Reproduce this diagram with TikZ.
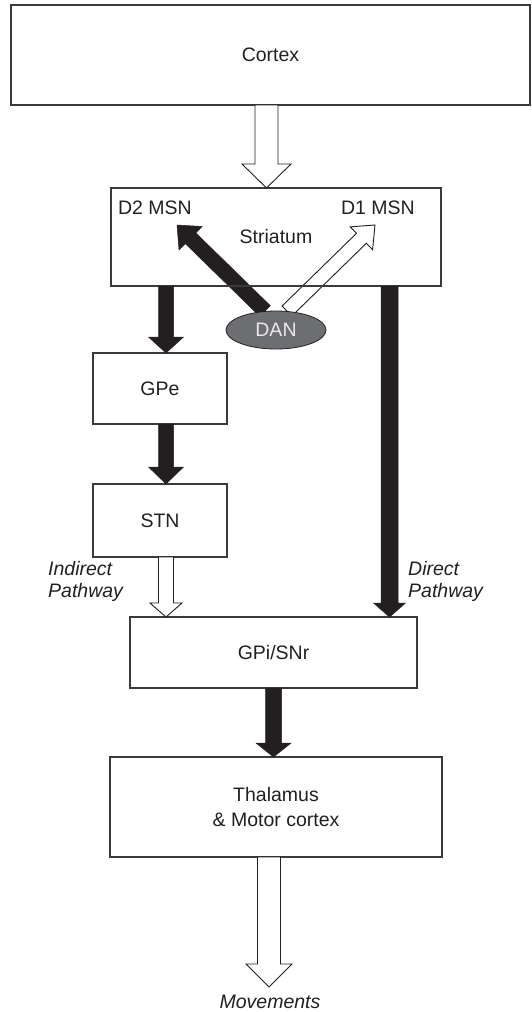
\documentclass[tikz,border=0pt]{standalone}
\usepackage{fontspec}
\setmainfont{Liberation Sans}
\usetikzlibrary{calc,shapes.geometric}
\pgfdeclarelayer{back}
\pgfsetlayers{back,main}
\definecolor{ink}{HTML}{231F20}
\definecolor{rim}{HTML}{3A3A3A}
\definecolor{dangray}{HTML}{6D6E71}
\definecolor{danfg}{HTML}{E8E8E8}
\newcommand{\labelsize}{\fontsize{19.5}{22}\selectfont}

\begin{document}
\begin{tikzpicture}[x=1pt,y=-1pt,
  every node/.style={font=\labelsize, text=ink},
  box/.style={draw=rim, line width=1.1pt, inner sep=0pt, outer sep=0pt, align=center},
  blk/.style={fill=ink, draw=ink, line width=0.5pt},
  wht/.style={fill=white, draw=ink, line width=0.9pt, line join=miter},
  fat/.style n args={3}{to path={
    ($(\tikztotarget)!#3!(\tikztostart)$) coordinate (neck)
    ($(\tikztostart)!#1!90:(\tikztotarget)$)
    -- ($(neck)!#1!90:(\tikztotarget)$)
    -- ($(neck)!#2!90:(\tikztotarget)$)
    -- (\tikztotarget)
    -- ($(neck)!#2!-90:(\tikztotarget)$)
    -- ($(neck)!#1!-90:(\tikztotarget)$)
    -- ($(\tikztostart)!#1!-90:(\tikztotarget)$) -- cycle}}]

\useasboundingbox (0,0) rectangle (532,1012);

% boxes
\node[box, minimum width=519pt, minimum height=100pt] (cortex) at (270.5,55) {Cortex};
\node[box, minimum width=330pt, minimum height=98pt] (str) at (276,237) {Striatum};
\node[box, minimum width=134pt, minimum height=71pt] (gpe) at (160,388.5) {GPe};
\node[box, minimum width=134pt, minimum height=73pt] (stn) at (160,520.5) {STN};
\node[box, minimum width=287pt, minimum height=71pt] (gpi) at (273.5,652.5) {GPi/SNr};
\node[box, minimum width=332pt, minimum height=100pt, font=\fontsize{19.5}{25}\selectfont] (thal) at (276,807) {Thalamus\\\& Motor cortex};

\node[ellipse, draw=ink, line width=0.8pt, fill=dangray, minimum width=100pt, minimum height=38pt, inner sep=0pt, text=danfg] (dan) at (276,330) {DAN};

% labels
\node (d2) at (155,208) {D2 MSN};
\node (d1) at (378,208) {D1 MSN};
\node[anchor=west, align=left, inner sep=0pt, font=\labelsize\itshape] (indirect) at (48,581) {Indirect\\Pathway};
\node[anchor=west, align=left, inner sep=0pt, font=\labelsize\itshape] (direct) at (408,581) {Direct\\Pathway};
\node[anchor=north, inner sep=0pt, font=\labelsize\itshape] (mov) at (270,995) {Movements};

\coordinate (ctx out) at ([xshift=-4pt]cortex.south);
\coordinate (ind x) at ([xshift=6pt]gpe.north);
\coordinate (dir x) at (389.5,0);
\coordinate (mov x) at ([xshift=-7pt]thal.south);
\coordinate (mov top) at ([yshift=8pt]mov.north);
\coordinate (d2tip) at (177,225);
\coordinate (d1tip) at (375,225);

% pathways
\draw[wht, fat={11.5pt}{24.5pt}{24pt}] (ctx out) to (ctx out |- str.north);
\draw[blk, fat={7.5pt}{17.5pt}{16pt}] (ind x |- str.south) to (ind x);
\draw[blk, fat={7.5pt}{17.5pt}{17pt}] ([xshift=6pt]gpe.south) to ([xshift=6pt]stn.north);
\draw[wht, fat={7.5pt}{16pt}{14pt}] ([xshift=6pt]stn.south) to (ind x |- gpi.north);
\draw[blk, fat={8.5pt}{16pt}{14pt}] (dir x |- str.south) to (dir x |- gpi.north);
\draw[blk, fat={8pt}{17.5pt}{14pt}] (gpi.south) to (gpi.south |- thal.north);
\draw[wht, fat={11.5pt}{23pt}{23pt}] (mov x) to (mov x |- mov top);

% dopamine
\begin{pgfonlayer}{back}
\draw[blk, fat={7.5pt}{16.5pt}{19pt}] (dan.120) to (d2tip);
\draw[wht, fat={7pt}{16pt}{19pt}] (dan.60) to (d1tip);
\end{pgfonlayer}
\end{tikzpicture}
\end{document}
